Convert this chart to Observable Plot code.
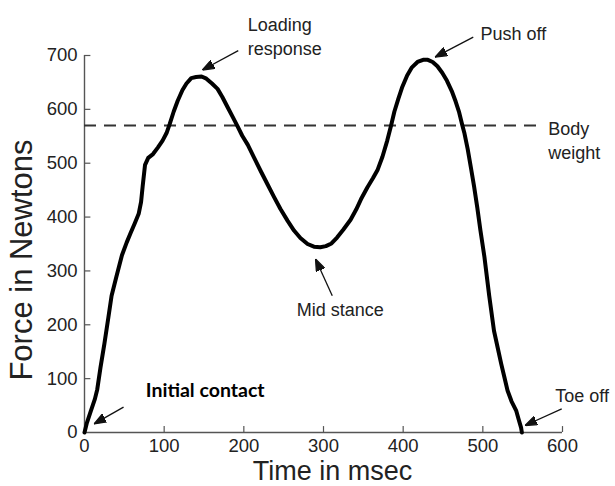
<!DOCTYPE html>
<html><head><meta charset="utf-8">
<script src="https://cdn.jsdelivr.net/npm/d3@7"></script>
<script src="https://cdn.jsdelivr.net/npm/@observablehq/plot@0.6"></script>
<style>body{margin:0;background:#fff}</style>
</head><body><div id="chart"></div>
<script>
// Ground reaction force during stance phase
const timeMs = [0,3,8,13,16,20,25,30,34,40,47,53,58,63,68,71,73,76,80,86,92,98,103,107,112,117,123,128,134,140,147,153,160,167,173,180,186,192,198,205,213,221,230,238,246,255,263,271,280,288,296,303,310,317,325,334,341,347,355,362,368,374,380,385,389,394,399,405,411,418,425,431,437,443,449,455,461,466,470,474,477,481,485,489,493,497,502,508,514,519,523,527,531,536,542,545,548,549];
const forceN = [0,18,40,62,80,120,165,214,254,289,329,353,371,388,406,428,457,497,510,517,529,542,556,573,596,616,636,648,658,660,661,657,648,638,623,603,586,569,551,534,510,486,460,437,415,393,375,361,350,345,344,346,351,362,377,395,414,433,455,472,488,512,542,571,596,620,642,663,678,688,692,692,688,680,668,653,634,614,596,572,555,526,492,457,418,375,326,254,189,155,128,103,78,58,40,24,9,0];
const bodyWeight = 570;
const bodyWeightSpan = [0, 569];
const xTicks = [0,100,200,300,400,500,600];
const yTicks = [0,100,200,300,400,500,600,700];
const xTitle = "Time in msec";
const yTitle = "Force in Newtons";
const noteText = ["Loading\nresponse", "Push off", "Body\nweight", "Mid stance", "Toe off", "Initial contact"];
const noteX = [205, 497, 582, 321, 591, 77];
const noteY = [738, 743, 545, 232, 72, 78];
const noteAnchor = ["start", "start", "start", "middle", "start", "start"];
const arrowX1 = [193, 488, 311, 599, 49];
const arrowY1 = [709, 734, 254, 44, 47];
const arrowX2 = [148, 440, 290, 553, 12];
const arrowY2 = [673, 697, 322, 13, 16];

const curve = timeMs.map((t, i) => ({t, f: forceN[i]}));
const notes = noteText.map((text, i) => ({text, x: noteX[i], y: noteY[i], anchor: noteAnchor[i]}));
const arrows = arrowX1.map((x1, i) => ({x1, y1: arrowY1[i], x2: arrowX2[i], y2: arrowY2[i]}));

function filledArrowhead(color) {
  const ns = "http://www.w3.org/2000/svg";
  const m = document.createElementNS(ns, "marker");
  m.setAttribute("viewBox", "-12 -5 12 10");
  m.setAttribute("markerWidth", 12);
  m.setAttribute("markerHeight", 10);
  m.setAttribute("markerUnits", "userSpaceOnUse");
  m.setAttribute("orient", "auto");
  m.setAttribute("refX", 0);
  m.setAttribute("refY", 0);
  const p = document.createElementNS(ns, "path");
  p.setAttribute("d", "M-12,-4.5L0,0L-12,4.5Z");
  p.setAttribute("fill", color);
  m.appendChild(p);
  return m;
}

const font = "'Liberation Sans', Arial, Helvetica, sans-serif";
const isBold = d => d.text === "Initial contact";

const chart = Plot.plot({
  width: 615,
  height: 486,
  marginLeft: 84,
  marginRight: 53,
  marginTop: 55,
  marginBottom: 54,
  style: {fontFamily: font, fontSize: "18px", background: "#fff", color: "#222", overflow: "visible"},
  x: {domain: [0, 600]},
  y: {domain: [0, 700]},
  marks: [
    Plot.axisX({ticks: xTicks, tickSize: 0, tickPadding: 6, label: null, fontSize: 18.5, fill: "#222"}),
    Plot.axisY({ticks: yTicks, tickSize: 0, tickPadding: 7, label: null, fontSize: 18.5, fill: "#222"}),
    Plot.ruleX(xTicks.filter(d => d > 0), {x: d => d, y1: 0, y2: 11, stroke: "#555", strokeWidth: 1.2}),
    Plot.ruleY(yTicks.filter(d => d > 0), {y: d => d, x1: 0, x2: 8, stroke: "#555", strokeWidth: 1.2}),
    Plot.ruleY([0], {x1: 0, x2: 600, stroke: "#555", strokeWidth: 1.4}),
    Plot.ruleX([0], {y1: 0, y2: 700, stroke: "#555", strokeWidth: 1.4}),
    Plot.ruleY([bodyWeight], {x1: bodyWeightSpan[0], x2: bodyWeightSpan[1], stroke: "#333", strokeWidth: 2, strokeDasharray: "12,8"}),
    Plot.line(curve, {x: "t", y: "f", stroke: "#000", strokeWidth: 4, strokeLinejoin: "round", strokeLinecap: "round"}),
    Plot.link(arrows, {x1: "x1", y1: "y1", x2: "x2", y2: "y2", stroke: "#111", strokeWidth: 1.3, markerEnd: filledArrowhead}),
    Plot.text(notes.filter(d => !isBold(d) && d.anchor === "start"), {x: "x", y: "y", text: "text", textAnchor: "start", lineAnchor: "middle", lineHeight: 1.38, fontSize: 18, fill: "#222"}),
    Plot.text(notes.filter(d => !isBold(d) && d.anchor === "middle"), {x: "x", y: "y", text: "text", textAnchor: "middle", lineAnchor: "middle", lineHeight: 1.38, fontSize: 18, fill: "#222"}),
    Plot.text(notes.filter(isBold), {x: "x", y: "y", text: "text", textAnchor: "start", lineAnchor: "middle", fontSize: 19.5, fontWeight: "bold", fontFamily: "Lato, 'Open Sans', sans-serif", fill: "#000"}),
    Plot.text([xTitle], {text: d => d, frameAnchor: "bottom", textAnchor: "middle", dx: 9, dy: 39, lineAnchor: "middle", fontSize: 27, fill: "#222"}),
    Plot.text([yTitle], {text: d => d, frameAnchor: "left", textAnchor: "middle", dx: -62, dy: 16, rotate: -90, lineAnchor: "middle", fontSize: 31, fill: "#222"})
  ]
});
document.getElementById("chart").appendChild(chart);
</script>
</body></html>
